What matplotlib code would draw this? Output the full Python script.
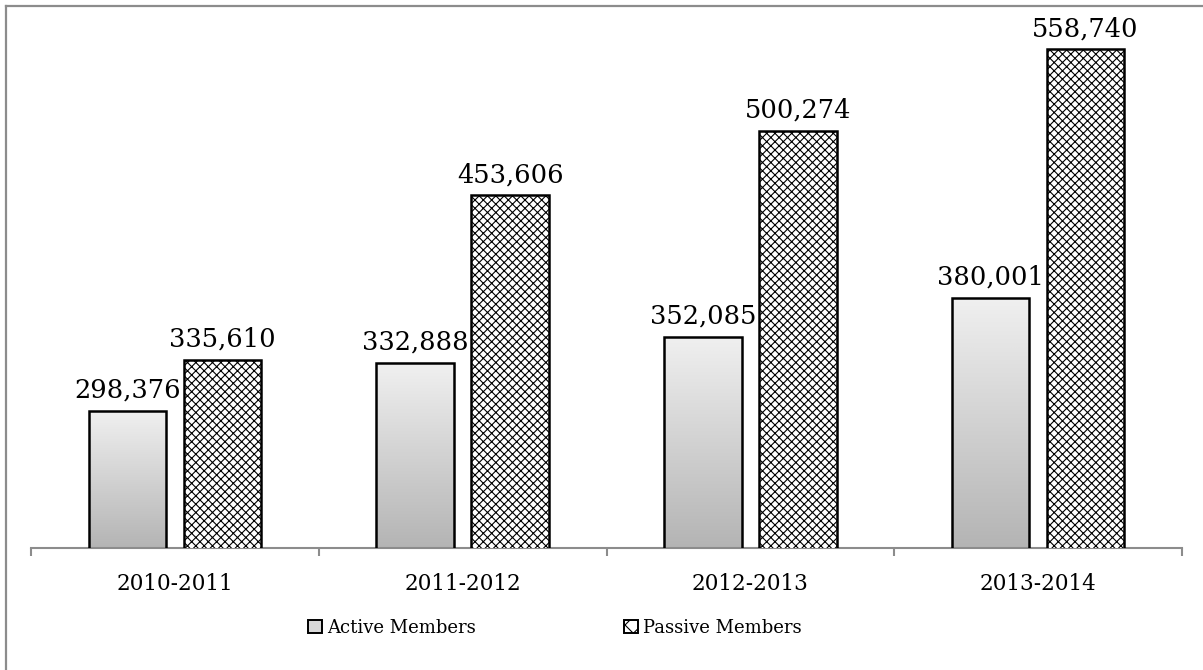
import numpy as np
import matplotlib.pyplot as plt
from matplotlib.patches import Patch
from matplotlib.lines import Line2D

# data
years = ['2010-2011', '2011-2012', '2012-2013', '2013-2014']
active = [298376, 332888, 352085, 380001]
passive = [335610, 453606, 500274, 558740]

plt.rcParams['font.family'] = ['DejaVu Serif']
plt.rcParams['hatch.linewidth'] = 0.8

ymin, ymax = 200000, 600000

fig = plt.figure(figsize=(12.03, 6.70), dpi=100)
ax = fig.add_axes([31 / 1203, 122 / 670, 1151 / 1203, 556 / 670])

x = np.arange(len(years))
w = 0.27
off = 0.165

# active bars: gray gradient, drawn as image clipped to each bar
act_bars = ax.bar(x - off, active, w, facecolor='none', edgecolor='black',
                  linewidth=1.8, zorder=3)
grad = np.linspace(0, 1, 256).reshape(-1, 1)
cmap = plt.cm.colors.LinearSegmentedColormap.from_list('g', ['#b4b4b4', '#f0f0f0'])
for b in act_bars:
    im = ax.imshow(grad, cmap=cmap, origin='lower', aspect='auto',
                   extent=[b.get_x(), b.get_x() + b.get_width(), ymin, b.get_height()],
                   zorder=2)
    im.set_clip_path(b)

pas_bars = ax.bar(x + off, passive, w, facecolor='white', edgecolor='black',
                  hatch='xxxx', linewidth=1.8, zorder=3)

for bars in (act_bars, pas_bars):
    for b in bars:
        ax.annotate(f'{int(b.get_height()):,}',
                    (b.get_x() + b.get_width() / 2, b.get_height()),
                    xytext=(0, 6), textcoords='offset points',
                    ha='center', va='bottom', fontsize=18.5, annotation_clip=False)

ax.set_xlim(-0.5, 3.5)
ax.set_ylim(ymin, ymax)
ax.set_yticks([])
for s in ['top', 'right', 'left']:
    ax.spines[s].set_visible(False)
ax.spines['bottom'].set_color('#8c8c8c')
ax.spines['bottom'].set_linewidth(1.5)

ax.set_xticks(x)
ax.set_xticklabels(years, fontsize=15.5)
ax.tick_params(axis='x', which='major', length=0, pad=18)
ax.set_xticks(np.arange(-0.5, 4, 1), minor=True)
ax.tick_params(axis='x', which='minor', length=6, width=1.5, color='#8c8c8c')

handles = [Patch(facecolor='#d9d9d9', edgecolor='black', linewidth=1.4),
           Patch(facecolor='white', edgecolor='black', hatch='xx', linewidth=1.4)]
fig.legend(handles, ['Active Members', 'Passive Members'], loc='center',
           bbox_to_anchor=(555 / 1203, 1 - 628 / 670), ncol=2, frameon=False,
           fontsize=13, handlelength=0.75, handleheight=0.75, handletextpad=0.3,
           columnspacing=8.2)

# outer frame (top and left edges visible)
fig.add_artist(Line2D([6 / 1203, 1], [1 - 6 / 670, 1 - 6 / 670],
                      transform=fig.transFigure, color='#8c8c8c', linewidth=1.6))
fig.add_artist(Line2D([6 / 1203, 6 / 1203], [0, 1 - 6 / 670],
                      transform=fig.transFigure, color='#8c8c8c', linewidth=1.6))

fig.savefig('out.png', dpi=100)
